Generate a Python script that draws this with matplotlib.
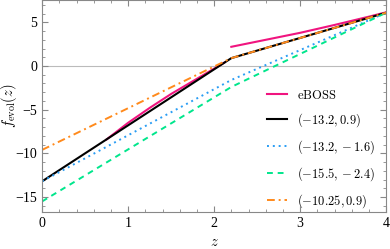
import numpy as np
import matplotlib
matplotlib.use('Agg')
import matplotlib.pyplot as plt
from matplotlib.ticker import MultipleLocator

plt.rcParams['mathtext.fontset'] = 'cm'
plt.rcParams['font.family'] = 'Liberation Serif'

# knots of the piecewise models (z, f_evol)
z_knots = [0.0, 2.2, 4.0]
f_black = [-13.2, 0.9, 6.1]
f_blue = [-13.2, -1.6, 6.1]
f_green = [-15.5, -2.4, 6.1]
f_orange = [-9.6, 0.9, 6.1]

# eBOSS curve, two pieces
z_eboss_lo = [0.75, 1.0, 1.25, 1.5, 1.75, 2.0, 2.12]
f_eboss_lo = [-8.4, -6.5, -4.8, -3.2, -1.75, -0.3, 0.4]
z_eboss_hi = [2.2, 2.6, 3.0, 3.4, 3.8, 4.0]
f_eboss_hi = [2.2, 3.0, 3.8, 4.7, 5.65, 6.15]

labels = [r'$\mathrm{eBOSS}$', r'$(-13.2, 0.9)$', r'$(-13.2, -1.6)$',
          r'$(-15.5, -2.4)$', r'$(-10.25, 0.9)$']

fig = plt.figure(figsize=(3.9, 2.49), dpi=100)
ax = fig.add_axes([0.108, 0.149, 0.882, 0.849])

ax.axhline(0, color='#bbbbbb', lw=0.8, zorder=0)

ax.plot(z_eboss_lo, f_eboss_lo, color='#f0147f', lw=1.5, label=labels[0])
ax.plot(z_eboss_hi, f_eboss_hi, color='#f0147f', lw=1.5)
ax.plot(z_knots, f_black, color='black', lw=1.5, label=labels[1])
ax.plot(z_knots, f_blue, color='#2a9df4', lw=1.4, ls=(0, (1, 2)), label=labels[2])
ax.plot(z_knots, f_green, color='#00e68c', lw=1.4, ls=(0, (3, 2.5)), label=labels[3])
ax.plot(z_knots, f_orange, color='#ff8a1c', lw=1.4, ls=(0, (4, 2, 1, 2)), label=labels[4])

ax.set_xlim(0, 4)
ax.set_ylim(-16.7, 7.5)
ax.xaxis.set_major_locator(MultipleLocator(1))
ax.xaxis.set_minor_locator(MultipleLocator(0.2))
ax.yaxis.set_major_locator(MultipleLocator(5))
ax.yaxis.set_minor_locator(MultipleLocator(1))
ax.tick_params(which='both', direction='in', top=True, right=True,
               color='#888888', labelsize=10)
ax.tick_params(which='major', length=4)
ax.tick_params(which='minor', length=2)
for s in ax.spines.values():
    s.set_color('#888888')

ax.set_xlabel(r'$z$', fontsize=10.5)
ax.set_ylabel(r'$f_{\rm evol}(z)$', fontsize=10.5)
ax.xaxis.set_label_coords(0.5, -0.115)
ax.yaxis.set_label_coords(-0.066, 0.5)

ax.legend(loc='lower right', frameon=False, fontsize=9, handlelength=1.6,
          handletextpad=0.8, labelspacing=0.75, bbox_to_anchor=(1.0, -0.045))

fig.savefig('out.png', dpi=100)
